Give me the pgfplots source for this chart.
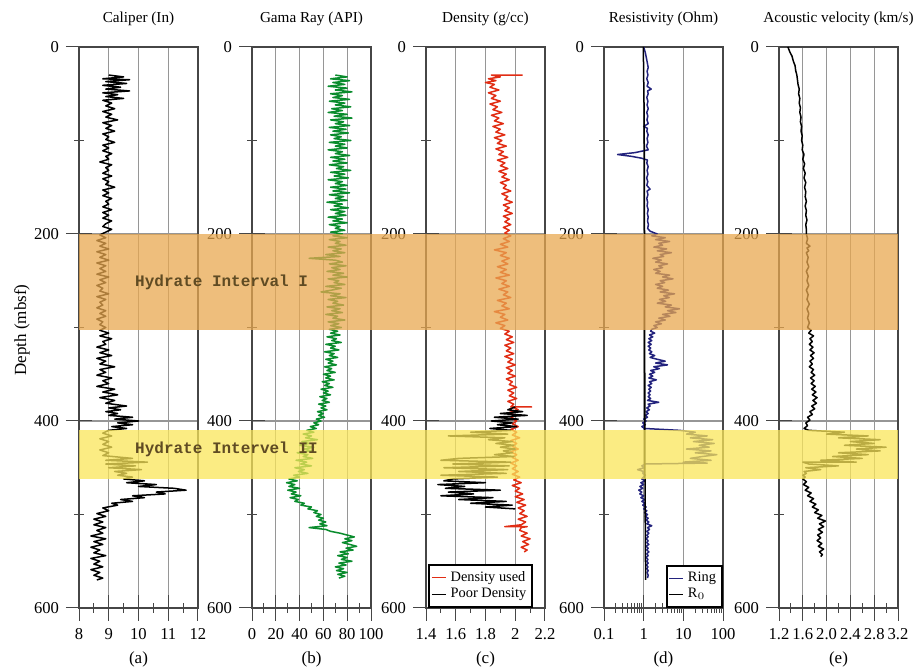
\documentclass[border=0pt]{standalone}
\usepackage{pgfplots}
\pgfplotsset{compat=1.18}
\usepackage{fontspec}
\setmainfont{Liberation Serif}
\newfontfamily\hydfont{Liberation Mono}
\definecolor{gridc}{RGB}{150,150,150}
\definecolor{framec}{RGB}{70,70,70}
\definecolor{gammagreen}{RGB}{10,140,45}
\definecolor{densred}{RGB}{225,45,20}
\definecolor{resblue}{RGB}{35,35,125}
\definecolor{bandI}{RGB}{232,168,80}
\definecolor{bandII}{RGB}{250,230,90}
\definecolor{hydtext}{RGB}{95,75,35}
\pgfplotsset{
 track/.style={
  scale only axis, width=59.5pt, height=280.5pt, anchor=north west,
  ymin=0, ymax=600, y dir=reverse,
  ytick={0,200,400,600}, yticklabels={0,200,400,600}, minor y tick num=1,
  xmajorgrids, ymajorgrids, grid style={gridc, line width=0.6pt},
  tick align=center, major tick length=13pt, minor tick length=5pt,
  xtick pos=left, xticklabel pos=left, ytick pos=left,
  tick label style={font=\fontsize{8.3}{9}\selectfont},
  axis line style={framec, line width=0.6pt},
  tick style={framec, line width=0.5pt},
  every axis plot/.append style={line width=0.75pt, line join=round},
  legend cell align=left,
  legend style={font=\fontsize{7.2}{8}\selectfont, draw=black, line width=1pt, inner sep=1pt, row sep=-2pt},
  legend image code/.code={\draw[#1, line width=0.5pt] (0cm,0cm) -- (0.25cm,0cm);},
 }
}
\begin{document}
\begin{tikzpicture}
\path[use as bounding box] (0,0) rectangle (459pt,336pt);
% (a) Caliper
\begin{axis}[track, name=A, at={(39.5pt,312.5pt)}, xmin=8, xmax=12,
  xtick={8,9,10,11,12}, xticklabels={8,9,10,11,12}, minor x tick num=1]
\addplot[black] table[row sep=\\, x=v, y=d] {d v\\
30 9.0\\ 32 9.5\\ 34 8.8\\ 35 9.7\\ 37 8.9\\ 39 9.6\\ 41 8.8\\ 43 9.4\\ 45 8.9\\ 47 9.7\\ 49 8.8\\ 51 9.3\\ 53 8.9\\ 55 9.5\\ 57 8.8\\ 60 9.1\\ 63 8.9\\ 66 9.2\\ 69 8.8\\ 72 9.1\\ 75 8.9\\ 78 9.3\\ 81 8.8\\ 84 9.1\\ 87 8.9\\ 90 9.2\\ 93 8.8\\ 96 9.0\\ 99 8.9\\ 102 9.2\\ 105 8.8\\ 108 9.0\\ 111 8.8\\ 114 9.1\\ 117 8.9\\ 120 9.0\\ 123 8.7\\ 126 9.1\\ 129 8.9\\ 132 9.0\\ 135 8.8\\ 138 9.1\\ 141 8.8\\ 144 9.0\\ 147 8.9\\ 150 9.2\\ 153 8.8\\ 156 9.0\\ 159 8.8\\ 162 9.1\\ 165 8.9\\ 168 9.0\\ 171 8.8\\ 174 9.1\\ 177 8.8\\ 180 9.0\\ 183 8.8\\ 186 9.1\\ 189 8.9\\ 192 8.8\\ 195 9.1\\ 198 8.9\\
201 8.7\\ 204 8.9\\ 207 8.6\\ 210 8.9\\ 213 8.7\\ 216 9.0\\ 219 8.6\\ 222 8.9\\ 225 8.7\\ 228 9.0\\ 231 8.6\\ 234 8.9\\ 237 8.7\\ 240 8.9\\ 243 8.6\\ 246 9.0\\ 249 8.7\\ 252 8.9\\ 255 8.6\\ 258 8.8\\ 261 8.7\\ 264 9.0\\ 267 8.6\\ 270 8.9\\ 273 8.7\\ 276 8.8\\ 279 8.6\\ 282 8.9\\ 285 8.7\\ 288 8.9\\ 291 8.6\\ 294 8.8\\ 297 8.7\\ 300 8.9\\ 303 8.7\\
306 9.0\\ 309 8.7\\ 312 9.1\\ 315 8.8\\ 318 8.9\\ 321 8.6\\ 324 9.0\\ 327 8.7\\ 330 9.1\\ 333 8.6\\ 336 8.9\\ 339 8.7\\ 342 9.2\\ 345 8.7\\ 348 8.9\\ 351 8.6\\ 354 9.1\\ 357 8.8\\ 360 9.0\\ 363 8.6\\ 366 9.2\\ 369 8.8\\ 372 9.3\\ 375 8.7\\ 378 9.2\\ 381 8.9\\ 384 9.6\\ 386 9.0\\ 388 9.4\\ 390 8.9\\ 392 9.3\\ 394 9.0\\ 396 9.8\\ 398 9.2\\ 400 10.0\\ 402 9.3\\ 404 9.8\\ 406 9.1\\ 408 9.6\\ 410 9.0\\
413 8.8\\ 416 9.1\\ 419 8.7\\ 422 9.0\\ 425 8.8\\ 428 9.1\\ 431 8.7\\ 434 9.0\\ 437 8.8\\ 440 9.8\\ 442 8.9\\ 444 10.3\\ 446 8.9\\ 448 9.9\\ 450 9.0\\ 452 10.1\\ 454 9.2\\ 456 9.6\\ 458 9.3\\ 460 9.8\\ 462 9.5\\ 464 10.2\\ 466 9.6\\ 468 10.6\\ 470 10.0\\ 472 11.2\\ 474 11.6\\ 476 10.6\\ 478 10.9\\ 480 9.8\\ 482 10.2\\ 484 9.4\\ 486 9.8\\ 488 9.1\\ 490 9.3\\ 493 8.8\\ 496 9.0\\ 499 8.6\\ 502 8.9\\ 505 8.5\\ 508 8.8\\ 511 8.5\\ 514 8.9\\ 517 8.6\\ 520 8.8\\ 523 8.4\\ 526 8.9\\ 529 8.5\\ 532 8.8\\ 535 8.4\\ 538 8.7\\ 541 8.5\\ 544 8.9\\ 547 8.4\\ 550 8.7\\ 553 8.5\\ 556 8.8\\ 559 8.4\\ 562 8.7\\ 565 8.5\\ 568 8.8\\ 570 8.6\\
};
\end{axis}
% (b) Gamma ray
\begin{axis}[track, name=B, at={(126pt,312.5pt)}, xmin=0, xmax=100,
  xtick={0,20,40,60,80,100}, xticklabels={0,20,40,60,80,100}, minor x tick num=1]
\addplot[gammagreen] table[row sep=\\, x=v, y=d] {d v\\
30 70\\ 32 80\\ 34 66\\ 36 82\\ 38 68\\ 40 78\\ 42 64\\ 44 80\\ 46 70\\ 48 84\\ 50 66\\ 52 76\\ 54 68\\ 56 82\\ 58 65\\ 60 78\\ 62 70\\ 64 83\\ 66 67\\ 68 76\\ 70 64\\ 72 80\\ 74 69\\ 76 84\\ 78 66\\ 80 77\\ 82 70\\ 84 82\\ 86 65\\ 88 79\\ 90 68\\ 92 81\\ 94 66\\ 96 75\\ 98 69\\ 100 83\\ 102 65\\ 104 78\\ 106 70\\ 108 80\\ 110 64\\ 112 76\\ 114 70\\ 116 82\\ 118 66\\ 120 78\\ 122 68\\ 124 80\\ 126 65\\ 128 77\\ 130 71\\ 132 83\\ 134 66\\ 136 78\\ 138 69\\ 140 81\\ 142 64\\ 144 76\\ 146 70\\ 148 80\\ 150 66\\ 152 79\\ 154 68\\ 156 82\\ 158 65\\ 160 77\\ 162 70\\ 164 80\\ 166 63\\ 168 76\\ 170 69\\ 172 81\\ 174 66\\ 176 78\\ 178 70\\ 180 79\\ 182 64\\ 184 76\\ 186 68\\ 188 80\\ 190 65\\ 192 74\\ 194 70\\ 196 78\\ 198 66\\
200 76\\ 202 68\\ 204 80\\ 206 65\\ 208 74\\ 210 70\\ 212 79\\ 214 64\\ 216 75\\ 218 68\\ 220 78\\ 222 62\\ 224 74\\ 226 48\\ 228 70\\ 230 76\\ 232 65\\ 234 79\\ 236 67\\ 238 74\\ 240 63\\ 242 77\\ 244 68\\ 246 80\\ 248 64\\ 250 73\\ 252 69\\ 254 78\\ 256 62\\ 258 75\\ 260 67\\ 262 58\\ 264 74\\ 266 66\\ 268 79\\ 270 64\\ 272 72\\ 274 68\\ 276 77\\ 278 63\\ 280 74\\ 282 67\\ 284 76\\ 286 62\\ 288 72\\ 290 68\\ 292 78\\ 294 64\\ 296 73\\ 298 66\\ 300 75\\ 302 65\\
304 72\\ 306 66\\ 308 74\\ 310 63\\ 312 71\\ 314 67\\ 316 75\\ 318 62\\ 320 70\\ 322 66\\ 324 73\\ 326 61\\ 328 69\\ 330 65\\ 332 72\\ 334 62\\ 336 68\\ 338 64\\ 340 71\\ 342 61\\ 344 67\\ 346 63\\ 348 70\\ 350 60\\ 352 66\\ 354 62\\ 356 69\\ 358 59\\ 360 65\\ 362 61\\ 364 68\\ 366 58\\ 368 64\\ 370 60\\ 372 66\\ 374 57\\ 376 63\\ 378 59\\ 380 65\\ 382 56\\ 384 62\\ 386 58\\ 388 63\\ 390 55\\ 392 60\\ 394 56\\ 396 61\\ 398 54\\ 400 58\\ 402 52\\ 404 56\\ 406 49\\ 408 54\\
410 46\\ 412 52\\ 414 43\\ 416 50\\ 418 45\\ 420 55\\ 422 42\\ 424 48\\ 426 40\\ 428 52\\ 430 44\\ 432 50\\ 434 38\\ 436 47\\ 438 43\\ 440 51\\ 442 37\\ 444 46\\ 446 41\\ 448 50\\ 450 36\\ 452 44\\ 454 39\\ 456 47\\ 458 35\\
460 40\\ 462 31\\ 464 38\\ 466 29\\ 468 36\\ 470 31\\ 472 40\\ 474 30\\ 476 37\\ 478 33\\ 480 41\\ 482 32\\ 484 39\\ 486 36\\ 488 44\\ 490 41\\ 492 50\\ 494 47\\ 496 55\\ 498 52\\ 500 58\\ 502 54\\ 504 60\\ 506 56\\ 508 62\\ 510 57\\ 512 63\\ 514 48\\ 516 62\\ 518 66\\ 520 74\\ 522 80\\ 524 86\\ 526 78\\ 528 84\\ 530 76\\ 532 82\\ 534 88\\ 536 79\\ 538 85\\ 540 74\\ 542 81\\ 544 72\\ 546 80\\ 548 75\\ 550 84\\ 552 73\\ 554 79\\ 556 70\\ 558 77\\ 560 71\\ 562 80\\ 564 72\\ 566 78\\ 568 73\\
};
\end{axis}
% (c) Density
\begin{axis}[track, name=C, at={(213pt,312.5pt)}, xmin=1.4, xmax=2.2,
  xtick={1.4,1.6,1.8,2.0,2.2}, xticklabels={1.4,1.6,1.8,2,2.2}, minor x tick num=1,
  legend style={at={(0.02,0.0)}, anchor=south west}]
\addplot[densred] table[row sep=\\, x=v, y=d] {d v\\
30 2.05\\ 30 1.84\\ 32 1.90\\ 34 1.82\\ 36 1.87\\ 38 1.80\\ 40 1.86\\ 43 1.83\\ 46 1.89\\ 49 1.82\\ 52 1.87\\ 55 1.84\\ 58 1.90\\ 61 1.83\\ 64 1.88\\ 67 1.85\\ 70 1.91\\ 73 1.84\\ 76 1.89\\ 79 1.86\\ 82 1.92\\ 85 1.85\\ 88 1.90\\ 91 1.87\\ 94 1.93\\ 97 1.86\\ 100 1.91\\ 103 1.88\\ 106 1.94\\ 109 1.87\\ 112 1.92\\ 115 1.89\\ 118 1.95\\ 121 1.88\\ 124 1.93\\ 127 1.90\\ 130 1.95\\ 133 1.89\\ 136 1.94\\ 139 1.91\\ 142 1.96\\ 145 1.90\\ 148 1.94\\ 151 1.92\\ 154 1.97\\ 157 1.91\\ 160 1.95\\ 163 1.93\\ 166 1.98\\ 169 1.92\\ 172 1.96\\ 175 1.93\\ 178 1.98\\ 181 1.92\\ 184 1.96\\ 187 1.93\\ 190 1.97\\ 193 1.92\\ 196 1.96\\ 199 1.93\\
202 1.97\\ 205 1.92\\ 208 1.96\\ 211 1.90\\ 214 1.95\\ 217 1.86\\ 220 1.94\\ 223 1.90\\ 226 1.96\\ 229 1.91\\ 232 1.95\\ 235 1.88\\ 238 1.94\\ 241 1.90\\ 244 1.96\\ 247 1.87\\ 250 1.94\\ 253 1.91\\ 256 1.96\\ 259 1.89\\ 262 1.95\\ 265 1.92\\ 268 1.97\\ 271 1.88\\ 274 1.94\\ 277 1.91\\ 280 1.96\\ 283 1.86\\ 286 1.93\\ 289 1.90\\ 292 1.95\\ 295 1.87\\ 298 1.93\\ 301 1.90\\ 304 1.96\\
307 1.93\\ 310 1.98\\ 313 1.94\\ 316 1.99\\ 319 1.93\\ 322 1.97\\ 325 1.94\\ 328 1.99\\ 331 1.93\\ 334 1.98\\ 337 1.95\\ 340 2.00\\ 343 1.94\\ 346 1.98\\ 349 1.95\\ 352 2.00\\ 355 1.94\\ 358 1.98\\ 361 1.96\\ 364 2.01\\ 367 1.95\\ 370 1.99\\ 373 1.96\\ 376 2.01\\ 379 1.95\\ 382 1.99\\ 385 1.97\\ 385 2.11\\ 385 1.98\\ 388 2.02\\ 391 1.96\\ 394 2.00\\ 397 1.97\\ 400 2.01\\
403 1.98\\ 406 2.02\\ 409 1.97\\ 412 2.01\\ 415 1.98\\ 418 2.03\\ 421 1.97\\ 424 2.01\\ 427 1.98\\ 430 2.02\\ 433 1.97\\ 436 2.01\\ 439 1.98\\ 442 2.02\\ 445 1.97\\ 448 2.01\\ 451 1.98\\ 454 2.02\\ 457 1.98\\ 460 2.03\\ 463 1.99\\ 466 2.04\\ 469 1.98\\ 472 2.03\\ 475 2.00\\ 478 2.05\\ 481 2.00\\ 484 2.06\\ 487 2.01\\ 490 2.07\\ 493 2.02\\ 496 2.06\\ 499 2.03\\ 502 2.08\\ 505 2.02\\ 508 2.07\\ 511 2.04\\ 513 1.93\\ 513 2.08\\ 514 2.04\\ 517 2.03\\ 520 2.08\\ 523 2.04\\ 526 2.10\\ 529 2.05\\ 532 2.09\\ 535 2.04\\ 538 2.08\\ 540 2.06\\
};
\addlegendentry{Density used}
\addplot[black] table[row sep=\\, x=v, y=d] {d v\\
385 2.00\\ 388 1.95\\ 390 2.05\\ 392 1.90\\ 394 2.08\\ 396 1.86\\ 398 2.02\\ 400 1.84\\ 402 1.98\\ 404 1.88\\ 406 2.01\\ 408 1.83\\ 410 1.97\\ 412 1.70\\ 414 1.95\\ 416 1.55\\ 418 1.93\\ 420 1.82\\ 422 1.98\\ 424 1.87\\ 426 1.99\\ 428 1.90\\ 430 2.00\\ 432 1.92\\ 434 1.98\\ 436 1.86\\ 438 1.99\\ 440 1.62\\ 442 1.50\\ 444 1.97\\ 446 1.58\\ 448 1.96\\ 450 1.52\\ 452 1.95\\ 454 1.62\\ 456 1.94\\ 458 1.50\\ 460 1.88\\ 462 1.58\\ 464 1.52\\ 466 1.80\\ 468 1.48\\ 470 1.66\\ 472 1.53\\ 474 1.90\\ 476 1.55\\ 478 1.72\\ 480 1.50\\ 482 1.85\\ 484 1.62\\ 486 1.94\\ 488 1.70\\ 490 1.98\\ 492 1.80\\ 494 2.00\\
};
\addlegendentry{Poor Density}
\end{axis}
% (d) Resistivity
\begin{axis}[track, name=D, at={(302pt,312.5pt)}, xmode=log, xmin=0.1, xmax=100,
  xtick={0.1,1,10,100}, xticklabels={0.1,1,10,100},
  minor xtick={0.2,0.3,0.4,0.5,0.6,0.7,0.8,0.9,2,3,4,5,6,7,8,9,20,30,40,50,60,70,80,90},
  legend style={at={(1,0)}, anchor=south east}]
\addplot[resblue] table[row sep=\\, x=v, y=d] {d v\\
0 1.0\\ 3 1.05\\ 6 1.1\\ 10 1.15\\ 14 1.2\\ 18 1.25\\ 22 1.3\\ 26 1.22\\ 30 1.28\\ 34 1.2\\ 38 1.3\\ 42 1.22\\ 45 1.55\\ 47 1.25\\ 50 1.3\\ 54 1.2\\ 58 1.28\\ 62 1.22\\ 66 1.3\\ 70 1.2\\ 74 1.27\\ 78 1.21\\ 82 1.3\\ 85 1.0\\ 87 1.25\\ 90 1.2\\ 94 1.3\\ 98 1.22\\ 102 1.28\\ 106 1.18\\ 110 1.3\\ 113 0.6\\ 115 0.22\\ 117 0.5\\ 119 0.9\\ 121 1.25\\ 124 1.2\\ 128 1.3\\ 132 1.22\\ 136 1.28\\ 140 1.19\\ 144 1.27\\ 148 1.2\\ 152 1.45\\ 154 1.22\\ 158 1.28\\ 162 1.2\\ 166 1.26\\ 170 1.22\\ 174 1.3\\ 178 1.24\\ 182 1.3\\ 186 1.25\\ 190 1.32\\ 194 1.26\\ 197 1.45\\
200 2.2\\ 202 1.6\\ 204 3.5\\ 206 2.0\\ 208 4.5\\ 210 2.4\\ 212 3.0\\ 214 1.8\\ 216 3.8\\ 218 2.2\\ 220 5.0\\ 222 2.6\\ 224 3.2\\ 226 1.7\\ 228 2.8\\ 230 2.0\\ 232 4.0\\ 234 2.4\\ 236 3.0\\ 238 1.8\\ 240 2.6\\ 242 2.0\\ 244 4.5\\ 246 3.0\\ 248 5.5\\ 250 2.6\\ 252 3.4\\ 254 2.0\\ 256 3.0\\ 258 2.2\\ 260 4.2\\ 262 2.6\\ 264 6.0\\ 266 3.2\\ 268 4.4\\ 270 2.5\\ 272 3.6\\ 274 2.2\\ 276 5.0\\ 278 3.5\\ 280 8.0\\ 282 4.0\\ 284 6.5\\ 286 3.0\\ 288 4.6\\ 290 2.4\\ 292 3.5\\ 294 2.0\\ 296 2.8\\ 298 1.8\\ 300 2.2\\ 302 1.6\\
304 1.5\\ 306 1.9\\ 308 1.4\\ 310 1.7\\ 312 1.35\\ 314 1.6\\ 316 1.3\\ 318 1.55\\ 320 1.3\\ 322 1.5\\ 324 1.35\\ 326 1.6\\ 328 1.4\\ 330 1.9\\ 332 1.45\\ 334 2.2\\ 336 3.5\\ 338 2.0\\ 340 4.0\\ 342 1.8\\ 344 2.5\\ 346 1.5\\ 348 1.9\\ 350 1.4\\ 352 1.7\\ 354 1.35\\ 356 2.1\\ 358 1.4\\ 360 1.6\\ 362 1.3\\ 364 1.55\\ 366 1.35\\ 368 1.5\\ 370 1.3\\ 372 1.45\\ 374 1.3\\ 376 1.5\\ 378 1.25\\ 380 2.4\\ 382 1.3\\ 384 1.45\\ 386 1.2\\ 388 1.4\\ 390 1.15\\ 392 1.3\\ 394 1.1\\ 396 1.25\\ 398 1.0\\ 400 1.15\\ 402 0.95\\ 404 1.1\\ 406 0.9\\ 408 1.05\\
410 8.0\\ 412 20\\ 414 12\\ 416 40\\ 418 15\\ 420 55\\ 422 18\\ 424 60\\ 426 25\\ 428 45\\ 430 12\\ 432 50\\ 434 20\\ 436 70\\ 438 30\\ 440 15\\ 442 50\\ 444 10\\ 445 40\\ 446 1.1\\ 448 0.9\\ 450 1.05\\ 452 0.7\\ 454 1.0\\ 456 0.95\\ 458 1.1\\ 460 1.0\\
462 0.9\\ 464 1.1\\ 466 0.85\\ 468 1.0\\ 470 0.8\\ 472 0.95\\ 474 0.75\\ 476 0.9\\ 478 0.8\\ 480 1.0\\ 482 0.85\\ 484 1.05\\ 486 0.9\\ 488 1.1\\ 490 0.95\\ 492 1.15\\ 494 1.0\\ 496 1.2\\ 498 1.05\\ 500 1.25\\ 502 1.1\\ 504 1.3\\ 506 1.15\\ 508 1.35\\ 510 1.2\\ 512 1.6\\ 514 1.25\\ 516 1.4\\ 518 1.2\\ 520 1.35\\ 522 1.2\\ 524 1.3\\ 526 1.15\\ 528 1.3\\ 530 1.2\\ 532 1.35\\ 534 1.15\\ 536 1.3\\ 538 1.2\\ 540 1.35\\ 542 1.2\\ 544 1.3\\ 546 1.15\\ 548 1.28\\ 550 1.2\\ 552 1.3\\ 554 1.18\\ 556 1.28\\ 558 1.2\\ 560 1.3\\ 562 1.22\\ 565 1.3\\ 568 1.25\\
};
\addlegendentry{Ring}
\addplot[black] table[row sep=\\, x=v, y=d] {d v\\
0 0.98\\ 60 1.02\\ 120 1.04\\ 200 1.05\\ 300 1.06\\ 400 1.07\\ 460 1.08\\ 520 1.10\\ 570 1.12\\
};
\addlegendentry{R$_0$}
\end{axis}
% (e) Acoustic velocity
\begin{axis}[track, name=E, at={(389.5pt,312.5pt)}, xmin=1.2, xmax=3.2,
  xtick={1.2,1.6,2.0,2.4,2.8,3.2}, xticklabels={1.2,1.6,2.0,2.4,2.8,3.2}, minor x tick num=1]
\addplot[black] table[row sep=\\, x=v, y=d] {d v\\
0 1.35\\ 5 1.38\\ 10 1.42\\ 15 1.44\\ 20 1.47\\ 25 1.48\\ 30 1.50\\ 35 1.51\\ 40 1.52\\ 45 1.54\\ 50 1.53\\ 55 1.55\\ 60 1.54\\ 65 1.56\\ 70 1.55\\ 75 1.57\\ 80 1.56\\ 85 1.58\\ 90 1.57\\ 95 1.59\\ 100 1.58\\ 105 1.60\\ 110 1.59\\ 115 1.62\\ 120 1.60\\ 125 1.63\\ 130 1.61\\ 135 1.64\\ 140 1.62\\ 145 1.65\\ 150 1.63\\ 155 1.65\\ 160 1.64\\ 165 1.66\\ 170 1.64\\ 175 1.66\\ 180 1.65\\ 185 1.67\\ 190 1.65\\ 195 1.66\\ 200 1.66\\
205 1.68\\ 210 1.66\\ 213 1.72\\ 215 1.67\\ 218 1.70\\ 220 1.66\\ 225 1.69\\ 230 1.67\\ 235 1.70\\ 240 1.66\\ 245 1.69\\ 250 1.67\\ 255 1.70\\ 260 1.66\\ 265 1.69\\ 270 1.67\\ 275 1.71\\ 280 1.67\\ 285 1.70\\ 290 1.68\\ 295 1.71\\ 300 1.68\\ 303 1.74\\ 306 1.70\\ 309 1.78\\ 312 1.72\\ 315 1.76\\ 318 1.71\\ 321 1.77\\ 324 1.72\\ 327 1.79\\ 330 1.73\\ 333 1.78\\ 336 1.72\\ 339 1.76\\ 342 1.71\\ 345 1.78\\ 348 1.74\\ 351 1.80\\ 354 1.73\\ 357 1.79\\ 360 1.74\\ 363 1.81\\ 366 1.75\\ 369 1.82\\ 372 1.76\\ 375 1.84\\ 378 1.77\\ 381 1.83\\ 384 1.75\\ 387 1.80\\ 390 1.72\\ 393 1.76\\ 396 1.68\\ 399 1.72\\ 402 1.65\\ 405 1.68\\ 408 1.62\\ 410 1.70\\
412 2.3\\ 414 2.0\\ 416 2.7\\ 418 2.2\\ 420 2.9\\ 422 2.4\\ 424 2.8\\ 426 2.3\\ 428 3.0\\ 430 2.5\\ 432 2.9\\ 434 2.2\\ 436 2.7\\ 438 2.1\\ 440 2.6\\ 442 1.9\\ 444 2.5\\ 444 1.6\\ 446 1.7\\ 448 2.2\\ 450 1.65\\ 452 1.9\\ 454 1.62\\ 456 1.66\\ 458 1.60\\ 460 1.64\\
462 1.60\\ 465 1.66\\ 468 1.61\\ 471 1.70\\ 474 1.64\\ 477 1.74\\ 480 1.68\\ 483 1.78\\ 486 1.72\\ 489 1.82\\ 492 1.76\\ 495 1.86\\ 498 1.80\\ 501 1.92\\ 504 1.85\\ 507 1.98\\ 510 1.88\\ 513 1.95\\ 516 1.86\\ 519 1.93\\ 522 1.85\\ 525 1.90\\ 528 1.84\\ 531 1.92\\ 534 1.86\\ 537 1.95\\ 540 1.88\\ 543 1.93\\ 545 1.90\\
};
\end{axis}
% hydrate intervals overlay
\begin{axis}[name=H, scale only axis, width=409.5pt, height=280.5pt, anchor=north west,
  at={(39.5pt,312.5pt)}, xmin=0, xmax=1, ymin=0, ymax=600, y dir=reverse, hide axis]
\addplot[draw=none, fill=bandI, fill opacity=0.75] coordinates {(0,200) (1,200) (1,303) (0,303)};
\addplot[draw=none, fill=bandII, fill opacity=0.75] coordinates {(0,410) (1,410) (1,462) (0,462)};
\node[anchor=west, text=hydtext, font=\hydfont\bfseries\fontsize{8}{9}\selectfont] at (axis cs:0.06,252) {Hydrate Interval I};
\node[anchor=west, text=hydtext, font=\hydfont\bfseries\fontsize{8}{9}\selectfont] at (axis cs:0.06,430) {Hydrate Intervel II};
\end{axis}
% titles and panel labels
\foreach \n/\t/\l in {A/{Caliper (In)}/(a), B/{Gama Ray (API)}/(b), C/{Density (g/cc)}/(c), D/{Resistivity (Ohm)}/(d), E/{Acoustic velocity (km/s)}/(e)}{
  \node[anchor=base, font=\fontsize{7.6}{9}\selectfont] at ([yshift=12pt]\n.north) {\t};
  \node[anchor=base, font=\fontsize{8.5}{10}\selectfont] at ([yshift=-28pt]\n.south) {\l};
}
\node[rotate=90, font=\fontsize{8.5}{10}\selectfont] at (11pt,171pt) {Depth (mbsf)};
\end{tikzpicture}
\end{document}
